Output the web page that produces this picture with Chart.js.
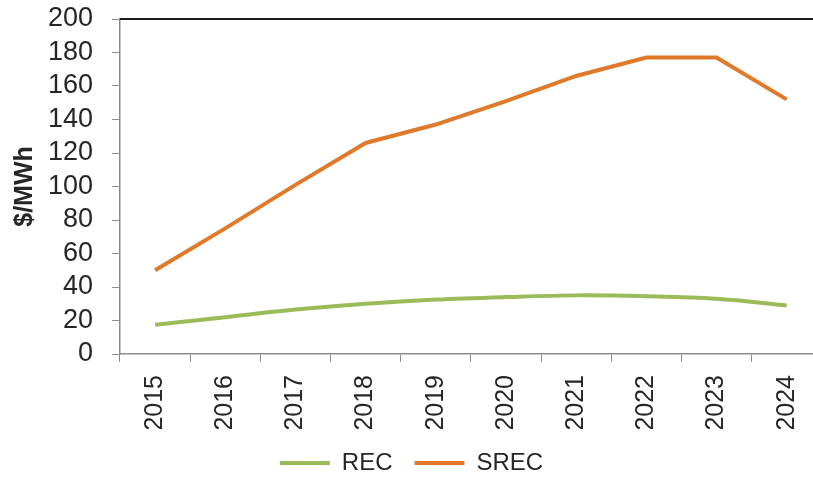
<!DOCTYPE html>
<html>
<head>
<meta charset="utf-8">
<script src="https://cdn.jsdelivr.net/npm/chart.js@4/dist/chart.umd.min.js"></script>
<style>
  html, body { margin: 0; padding: 0; background: #fff; overflow: hidden; }
  #wrap { width: 830px; height: 485px; }
</style>
</head>
<body>
<div id="wrap"><canvas id="priceChart" width="830" height="485"></canvas></div>
<script>
// REC / SREC prices, $/MWh
const years = ["2015", "2016", "2017", "2018", "2019", "2020", "2021", "2022", "2023", "2024"];
const recPrices = [17.5, 22, 26.5, 30, 32.5, 34, 35, 34.5, 33, 29];
const srecPrices = [50, 75, 101, 126, 137, 151, 166, 177, 177, 152];
const yTicks = [0, 20, 40, 60, 80, 100, 120, 140, 160, 180, 200];

const textColor = "#262626";
const axisColor = "#8c8c8c";
const recColor = "#9bbb59";
const srecColor = "#e07a2a";
const fontFamily = "Liberation Sans, Arial, sans-serif";

// plot bottom edge, px from the top of the canvas
const plotBottom = 354;

// dark frame line along the top of the plot
const topFrame = {
  id: "topFrame",
  afterDraw(chart) {
    const { ctx, chartArea } = chart;
    ctx.save();
    ctx.strokeStyle = "#1a1a1a";
    ctx.lineWidth = 2;
    ctx.beginPath();
    ctx.moveTo(chartArea.left, chartArea.top);
    ctx.lineTo(chartArea.right, chartArea.top);
    ctx.stroke();
    ctx.restore();
  },
};

const ctx = document.getElementById("priceChart").getContext("2d");

new Chart(ctx, {
  type: "line",
  data: {
    labels: years,
    datasets: [
      {
        label: "REC",
        data: recPrices,
        borderColor: recColor,
        backgroundColor: recColor,
        borderWidth: 4,
        pointRadius: 0,
        tension: 0.35,
        fill: false,
      },
      {
        label: "SREC",
        data: srecPrices,
        borderColor: srecColor,
        backgroundColor: srecColor,
        borderWidth: 4,
        pointRadius: 0,
        tension: 0,
        fill: false,
      },
    ],
  },
  options: {
    responsive: false,
    animation: false,
    layout: { padding: { top: 19, right: 7, left: 0, bottom: 0 } },
    plugins: {
      legend: {
        position: "bottom",
        labels: {
          usePointStyle: true,
          pointStyle: "line",
          pointStyleWidth: 50,
          color: textColor,
          font: { family: fontFamily, size: 24 },
          padding: 22,
        },
      },
      tooltip: { enabled: false },
    },
    scales: {
      x: {
        offset: true,
        // leave exactly the room between the plot and the legend
        afterFit(scale) {
          scale.height = scale.chart.height - scale.chart.legend.height - plotBottom;
        },
        grid: {
          offset: true,
          drawOnChartArea: false,
          drawTicks: true,
          tickLength: 8,
          color: axisColor,
        },
        border: { color: axisColor, width: 1.5 },
        ticks: {
          autoSkip: false,
          color: textColor,
          font: { family: fontFamily, size: 25 },
          minRotation: 90,
          maxRotation: 90,
          padding: 13,
        },
      },
      y: {
        min: 0,
        max: 200,
        afterBuildTicks(scale) {
          scale.ticks = yTicks.map((v) => ({ value: v }));
        },
        afterFit(scale) {
          scale.width = 120;
          scale.paddingTop = 0;
          scale.paddingBottom = 0;
        },
        grid: {
          drawOnChartArea: false,
          drawTicks: true,
          tickLength: 8,
          color: axisColor,
        },
        border: { color: axisColor, width: 1.5 },
        ticks: {
          autoSkip: false,
          color: textColor,
          font: { family: fontFamily, size: 27 },
          padding: 19,
        },
        title: {
          display: true,
          text: "$/MWh",
          color: textColor,
          font: { family: fontFamily, size: 25, weight: "bold" },
          padding: { top: 10, bottom: 0 },
        },
      },
    },
  },
  plugins: [topFrame],
});
</script>
</body>
</html>
